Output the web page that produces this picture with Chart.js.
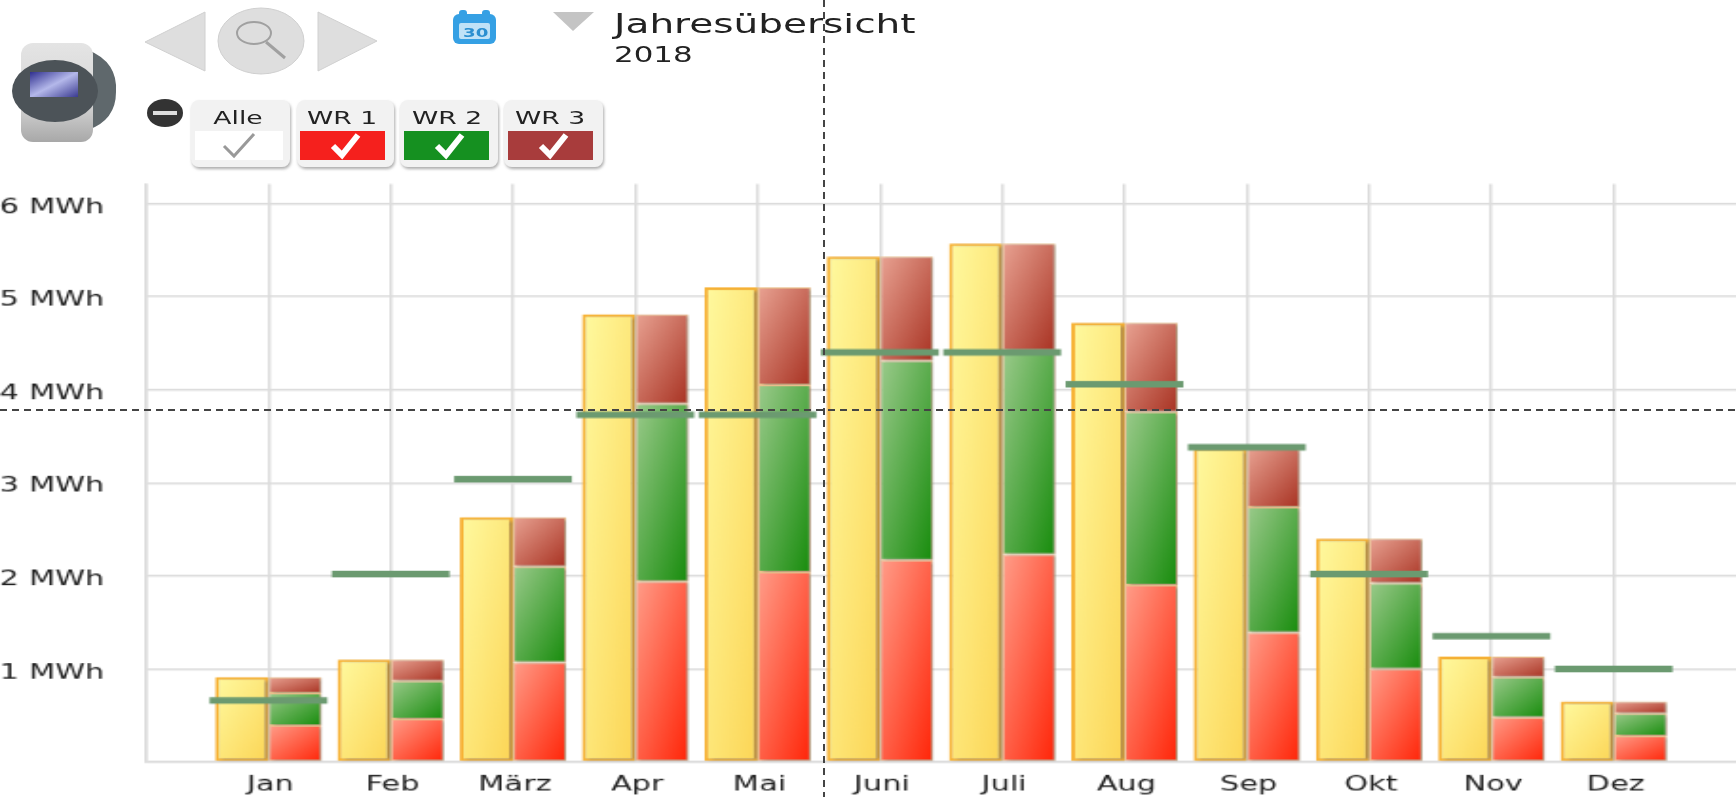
<!DOCTYPE html>
<html lang="de">
<head>
<meta charset="utf-8">
<title>Jahresübersicht 2018</title>
<script src="https://cdn.jsdelivr.net/npm/chart.js@4"></script>
<style>
  html, body { margin: 0; padding: 0; background: #fff; overflow: hidden; }
  #wrap { position: relative; width: 1736px; height: 797px; }
  canvas { position: absolute; left: 0; top: 0; }
  #header { position: absolute; left: 0; top: 0; filter: blur(0.7px); }
  #header text { font-family: "DejaVu Sans", sans-serif; fill: #222; }
  .cross { position: absolute; }
  #crossX { left: 0; top: 409px; width: 1736px; height: 2px;
    background: repeating-linear-gradient(90deg, #444 0 7px, transparent 7px 12px); }
  #crossY { left: 823px; top: 0; width: 2px; height: 797px;
    background: repeating-linear-gradient(180deg, #444 0 7px, transparent 7px 12px); }
</style>
</head>
<body>
<div id="wrap">
  <canvas id="chart" width="914" height="613" style="width:1736px;height:797px"></canvas>

  <svg id="header" width="1736" height="175" viewBox="0 0 1736 175">
    <defs>
      <linearGradient id="silver" x1="0" y1="0" x2="0" y2="1">
        <stop offset="0" stop-color="#e4e4e4"/><stop offset="0.6" stop-color="#d6d6d6"/><stop offset="1" stop-color="#a8a8a8"/>
      </linearGradient>
      <linearGradient id="screen" x1="0" y1="0" x2="1" y2="1">
        <stop offset="0" stop-color="#2f2f8f"/><stop offset="0.5" stop-color="#b4b8ea"/><stop offset="1" stop-color="#3a3a90"/>
      </linearGradient>
      <filter id="btnShadow"><feDropShadow dx="1" dy="2" stdDeviation="1.5" flood-color="#888" flood-opacity="0.7"/></filter>
    </defs>

    <!-- Geraet -->
    <path d="M88,50 Q118,62 116,92 Q116,120 88,130 Z" fill="#5f686c"/>
    <rect x="21" y="43" width="72" height="99" rx="12" fill="url(#silver)"/>
    <ellipse cx="55" cy="91" rx="43" ry="31" fill="#4c5358"/>
    <rect x="30" y="72" width="48" height="25" fill="url(#screen)"/>

    <!-- Navigation -->
    <polygon points="145,42 205,12 205,71" fill="#dedede" stroke="#d0d0d0"/>
    <ellipse cx="261" cy="41" rx="43" ry="33" fill="#dedede" stroke="#cfcfcf"/>
    <ellipse cx="254" cy="33" rx="17" ry="11" fill="none" stroke="#a0a0a0" stroke-width="2"/>
    <line x1="266" y1="42" x2="285" y2="58" stroke="#a0a0a0" stroke-width="3"/>
    <polygon points="318,12 377,41 318,71" fill="#dedede" stroke="#d0d0d0"/>

    <!-- Kalender -->
    <rect x="453" y="14" width="43" height="30" rx="6" fill="#35a0e4"/>
    <rect x="459" y="10" width="8" height="8" rx="3" fill="#35a0e4"/>
    <rect x="482" y="10" width="8" height="8" rx="3" fill="#35a0e4"/>
    <rect x="459" y="23" width="31" height="16" rx="2" fill="#bfe2f7"/>
    <text transform="translate(463,37) scale(1.4,1)" font-size="13" font-weight="bold" style="fill:#2a8fd0">30</text>

    <polygon points="553,12 594,12 573,31" fill="#c4c4c4"/>
    <text transform="translate(614,33) scale(1.95,1.3)" font-size="20">Jahresübersicht</text>
    <text transform="translate(614,62) scale(1.93,1.3)" font-size="16">2018</text>

    <!-- Wechselrichter -->
    <ellipse cx="165" cy="113" rx="18" ry="14" fill="#333"/>
    <rect x="153" y="111" width="24" height="4" fill="#ddd"/>

    <g filter="url(#btnShadow)">
      <rect x="191" y="100" width="99" height="67" rx="8" fill="#f2f2f2"/>
      <rect x="297" y="100" width="97" height="67" rx="8" fill="#f2f2f2"/>
      <rect x="400" y="100" width="98" height="67" rx="8" fill="#f2f2f2"/>
      <rect x="504" y="100" width="99" height="67" rx="8" fill="#f2f2f2"/>
    </g>
    <rect x="195" y="131" width="88" height="29" fill="#fff"/>
    <rect x="300" y="131" width="85" height="29" fill="#f5201d"/>
    <rect x="404" y="131" width="85" height="29" fill="#159020"/>
    <rect x="508" y="131" width="85" height="29" fill="#a83c3c"/>
    <text transform="translate(238,124) scale(1.9,1.3)" font-size="14" text-anchor="middle">Alle</text>
    <text transform="translate(342,124) scale(1.9,1.3)" font-size="14" text-anchor="middle">WR 1</text>
    <text transform="translate(447,124) scale(1.9,1.3)" font-size="14" text-anchor="middle">WR 2</text>
    <text transform="translate(550,124) scale(1.9,1.3)" font-size="14" text-anchor="middle">WR 3</text>
    <polyline points="224,146 234,156 254,134" fill="none" stroke="#999" stroke-width="3"/>
    <polyline points="333,146 342,155 358,135" fill="none" stroke="#fff" stroke-width="6"/>
    <polyline points="437,146 446,155 462,135" fill="none" stroke="#fff" stroke-width="6"/>
    <polyline points="541,146 550,155 566,135" fill="none" stroke="#fff" stroke-width="6"/>
  </svg>

  <div class="cross" id="crossX"></div>
  <div class="cross" id="crossY"></div>
</div>

<script>
const monate = ["Jan", "Feb", "März", "Apr", "Mai", "Juni", "Juli", "Aug", "Sep", "Okt", "Nov", "Dez"];
const yTickLabels = ["", "1 MWh", "2 MWh", "3 MWh", "4 MWh", "5 MWh", "6 MWh"];

const gesamt = [0.91, 1.10, 2.63, 4.81, 5.10, 5.43, 5.57, 4.72, 3.37, 2.40, 1.13, 0.65];
const wr1 = [0.39, 0.46, 1.07, 1.94, 2.04, 2.17, 2.23, 1.90, 1.39, 1.00, 0.48, 0.28];
const wr2 = [0.35, 0.41, 1.03, 1.91, 2.01, 2.14, 2.19, 1.86, 1.35, 0.92, 0.43, 0.24];
const wr3 = [0.17, 0.23, 0.53, 0.96, 1.05, 1.12, 1.15, 0.96, 0.63, 0.48, 0.22, 0.13];
const sollwert = [0.66, 2.02, 3.04, 3.73, 3.73, 4.40, 4.40, 4.06, 3.38, 2.02, 1.35, 1.00];

// leere Kategorien links und rechts, die Achse laeuft von 0 bis 13
const pad = (arr) => [null, ...arr, null];
const barShare = 0.87;

// diagonaler Verlauf je Balken, Mitte liegt auf der Gegendiagonale
function verlauf(hell, dunkel, werte, basis, rechts) {
  return (c) => {
    const i = c.dataIndex - 1;
    if (i < 0 || i >= werte.length) return "transparent";
    const { x, y } = c.chart.scales;
    const mitte = x.getPixelForValue(c.dataIndex);
    const w = ((x.getPixelForValue(1) - x.getPixelForValue(0)) * barShare) / 2;
    const unten = y.getPixelForValue(basis[i]);
    const oben = y.getPixelForValue(basis[i] + werte[i]);
    const h = unten - oben;
    const cx = rechts ? mitte + w / 2 : mitte - w / 2;
    const cy = (oben + unten) / 2;
    const k = (w * h) / (w * w + h * h);
    const g = c.chart.ctx.createLinearGradient(cx - h * k, cy - w * k, cx + h * k, cy + w * k);
    g.addColorStop(0, hell);
    g.addColorStop(1, dunkel);
    return g;
  };
}

const nullen = monate.map(() => 0);
const basisWr2 = wr1;
const basisWr3 = wr1.map((v, i) => v + wr2[i]);

const schatten = {
  id: "schatten",
  beforeDatasetDraw(chart, args) {
    if (args.meta.type !== "bar") return;
    chart.ctx.save();
    chart.ctx.shadowColor = "rgba(90,90,90,0.45)";
    chart.ctx.shadowOffsetX = 2;
    chart.ctx.shadowOffsetY = 1;
    chart.ctx.shadowBlur = 2;
  },
  afterDatasetDraw(chart, args) {
    if (args.meta.type === "bar") chart.ctx.restore();
  },
};

const randRechts = "rgba(236,190,135,0.95)";

new Chart(document.getElementById("chart").getContext("2d"), {
  type: "bar",
  data: {
    labels: ["", ...monate, " "],
    datasets: [
      {
        type: "line",
        label: "Sollwert",
        data: pad(sollwert),
        showLine: false,
        pointStyle: "line",
        pointRadius: 31,
        pointHoverRadius: 31,
        pointBorderWidth: 5,
        pointBorderColor: "#6b9a70",
        order: 0,
      },
      {
        label: "Gesamt",
        data: pad(gesamt),
        stack: "gesamt",
        backgroundColor: verlauf("#fffaa0", "#fcd555", gesamt, nullen, false),
        borderColor: "#f7b235",
        borderWidth: 2,
        borderSkipped: false,
        order: 1,
      },
      {
        label: "WR 1",
        data: pad(wr1),
        stack: "wr",
        backgroundColor: verlauf("#ff9e8a", "#ff2407", wr1, nullen, true),
        borderColor: randRechts,
        borderWidth: 1,
        borderSkipped: false,
        order: 1,
      },
      {
        label: "WR 2",
        data: pad(wr2),
        stack: "wr",
        backgroundColor: verlauf("#9ccb8c", "#178c0c", wr2, basisWr2, true),
        borderColor: randRechts,
        borderWidth: 1,
        borderSkipped: false,
        order: 1,
      },
      {
        label: "WR 3",
        data: pad(wr3),
        stack: "wr",
        backgroundColor: verlauf("#e9a393", "#a83222", wr3, basisWr3, true),
        borderColor: randRechts,
        borderWidth: 1,
        borderSkipped: false,
        order: 1,
      },
    ],
  },
  options: {
    responsive: false,
    devicePixelRatio: 1,
    animation: false,
    layout: { autoPadding: false, padding: { top: 141.5, left: 0, right: 0, bottom: 0 } },
    datasets: { bar: { categoryPercentage: barShare, barPercentage: 1 } },
    plugins: { legend: { display: false }, tooltip: { enabled: false } },
    scales: {
      x: {
        stacked: true,
        offset: false,
        afterFit: (s) => { s.height = 27; s.paddingLeft = 0; s.paddingRight = 0; },
        grid: {
          offset: false,
          // keine Linie am rechten Rand
          color: (c) => (c.index === monate.length + 1 ? "transparent" : "#dcdcdc"),
          lineWidth: 1.5,
          drawTicks: false,
        },
        border: { color: "#dcdcdc", width: 1.5 },
        ticks: {
          autoSkip: false,
          maxRotation: 0,
          padding: 8,
          labelOffset: 1,
          color: "#222",
          font: { family: "DejaVu Sans", size: 16 },
        },
      },
      y: {
        stacked: true,
        min: 0,
        max: 6.21,
        afterFit: (s) => { s.width = 76.9; s.paddingTop = 0; s.paddingBottom = 0; },
        grid: { color: "#dcdcdc", lineWidth: 1.5, drawTicks: false },
        border: { color: "#dcdcdc", width: 1.5 },
        ticks: {
          stepSize: 1,
          includeBounds: false,
          padding: 22,
          labelOffset: 3,
          color: "#222",
          font: { family: "DejaVu Sans", size: 16 },
          callback: (v) => yTickLabels[v],
        },
      },
    },
  },
  plugins: [schatten],
});
</script>
</body>
</html>
